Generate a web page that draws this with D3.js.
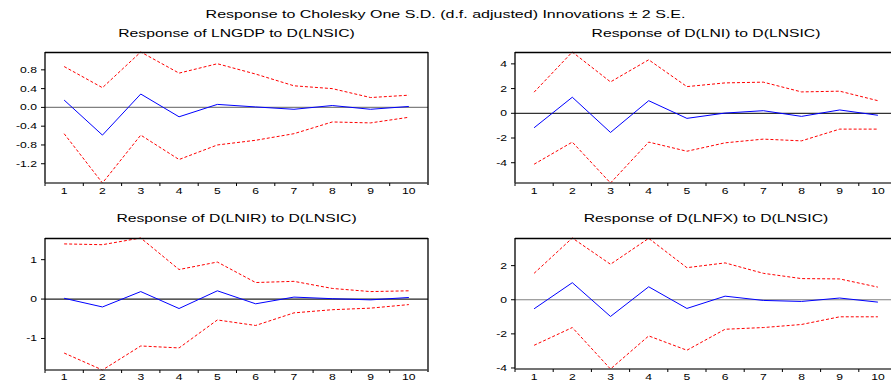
<!DOCTYPE html>
<html>
<head>
<meta charset="utf-8">
<script src="https://cdn.jsdelivr.net/npm/d3@7/dist/d3.min.js"></script>
<style>
  body { margin: 0; background: #fff; }
  svg { display: block; }
  text { font-family: "Liberation Sans", Arial, sans-serif; fill: #000; }
</style>
</head>
<body>
<div id="container"></div>
<script>
// periods
const periods = ['1', '2', '3', '4', '5', '6', '7', '8', '9', '10'];

// Response of LNGDP to D(LNSIC)
const gdpResp  = [0.156, -0.59, 0.285, -0.20, 0.064, 0.01, -0.04, 0.04, -0.04, 0.02];
const gdpUpper = [0.87, 0.42, 1.18, 0.73, 0.93, 0.71, 0.46, 0.40, 0.21, 0.26];
const gdpLower = [-0.56, -1.61, -0.59, -1.11, -0.80, -0.70, -0.56, -0.31, -0.33, -0.21];
const gdpTicks = [-1.2, -0.8, -0.4, 0.0, 0.4, 0.8];

// Response of D(LNI) to D(LNSIC)
const niResp  = [-1.17, 1.30, -1.55, 1.02, -0.41, 0.02, 0.21, -0.25, 0.27, -0.16];
const niUpper = [1.71, 4.96, 2.54, 4.33, 2.16, 2.46, 2.52, 1.73, 1.79, 1.02];
const niLower = [-4.12, -2.33, -5.64, -2.33, -3.07, -2.39, -2.09, -2.23, -1.28, -1.28];
const niTicks = [-4, -2, 0, 2, 4];

// Response of D(LNIR) to D(LNSIC)
const irResp  = [0.02, -0.20, 0.19, -0.24, 0.21, -0.12, 0.05, 0.01, -0.02, 0.04];
const irUpper = [1.40, 1.38, 1.55, 0.75, 0.94, 0.42, 0.45, 0.27, 0.19, 0.21];
const irLower = [-1.37, -1.80, -1.19, -1.24, -0.53, -0.67, -0.35, -0.27, -0.23, -0.14];
const irTicks = [-1, 0, 1];

// Response of D(LNFX) to D(LNSIC)
const fxResp  = [-0.53, 1.00, -0.98, 0.76, -0.51, 0.21, -0.04, -0.10, 0.10, -0.14];
const fxUpper = [1.55, 3.62, 2.08, 3.60, 1.88, 2.16, 1.55, 1.24, 1.22, 0.74];
const fxLower = [-2.67, -1.63, -4.06, -2.12, -2.96, -1.73, -1.63, -1.45, -1.00, -1.00];
const fxTicks = [-4, -2, 0, 2];

const mainTitle = 'Response to Cholesky One S.D. (d.f. adjusted) Innovations \u00b1 2 S.E.';

// plain hyphen for negatives, like the source
const loc = d3.formatLocale({ decimal: '.', thousands: ',', grouping: [3], currency: ['', ''], minus: '-' });
const f1 = loc.format('.1f'), f0 = loc.format('d');

const panels = [
  { title: 'Response of LNGDP to D(LNSIC)', resp: gdpResp, up: gdpUpper, lo: gdpLower, ticks: gdpTicks, fmt: f1,
    x0: 45, x1: 428, y0: 52, y1: 183, titleY: 37, labelY: 194, zero: '#808080' },
  { title: 'Response of D(LNI) to D(LNSIC)', resp: niResp, up: niUpper, lo: niLower, ticks: niTicks, fmt: f0,
    x0: 515, x1: 897, y0: 52, y1: 183, titleY: 37, labelY: 194, zero: '#333' },
  { title: 'Response of D(LNIR) to D(LNSIC)', resp: irResp, up: irUpper, lo: irLower, ticks: irTicks, fmt: f0,
    x0: 45, x1: 428, y0: 238, y1: 370, titleY: 222, labelY: 379.5, zero: '#222' },
  { title: 'Response of D(LNFX) to D(LNSIC)', resp: fxResp, up: fxUpper, lo: fxLower, ticks: fxTicks, fmt: f0,
    x0: 515, x1: 897, y0: 238, y1: 369, titleY: 222, labelY: 379.5, zero: '#808080' }
];

const W = 891, H = 383, SX = 1.43;

const svg = d3.select('#container').append('svg')
  .attr('width', W).attr('height', H);

// stretched text helper (the source image is widened horizontally)
function label(g, x, y, txt, size, anchor) {
  return g.append('text')
    .attr('transform', `translate(${x},${y}) scale(${SX},1)`)
    .attr('text-anchor', anchor || 'middle')
    .style('font-size', size + 'px')
    .text(txt);
}

label(svg, 445.5, 17.5, mainTitle, 11.2, 'middle');

panels.forEach(p => {
  const g = svg.append('g');

  const x = d3.scaleBand().domain(periods).range([p.x0, p.x1]);
  const all = p.resp.concat(p.up, p.lo);
  const y = d3.scaleLinear().domain(d3.extent(all)).range([p.y1, p.y0]);
  const cx = i => x(periods[i]) + x.bandwidth() / 2;

  label(g, (p.x0 + p.x1) / 2, p.titleY, p.title, 11, 'middle');

  // zero line
  g.append('line')
    .attr('x1', p.x0).attr('x2', p.x1)
    .attr('y1', y(0)).attr('y2', y(0))
    .attr('stroke', p.zero).attr('stroke-width', 1.2);

  const line = d3.line().x((d, i) => cx(i)).y(d => y(d));

  [p.up, p.lo].forEach(s => {
    g.append('path').datum(s)
      .attr('fill', 'none')
      .attr('stroke', '#ff0000')
      .attr('stroke-width', 1)
      .attr('stroke-dasharray', '3 2')
      .attr('d', line);
  });
  g.append('path').datum(p.resp)
    .attr('fill', 'none')
    .attr('stroke', '#0000ff')
    .attr('stroke-width', 1)
    .attr('d', line);

  // frame
  g.append('line').attr('x1', p.x0).attr('x2', p.x1).attr('y1', p.y0 + 0.5).attr('y2', p.y0 + 0.5)
    .attr('stroke', '#000').attr('stroke-width', 1.3);
  g.append('line').attr('x1', p.x0).attr('x2', p.x0).attr('y1', p.y0).attr('y2', p.y1)
    .attr('stroke', '#000').attr('stroke-width', 1.3);
  g.append('line').attr('x1', p.x1).attr('x2', p.x1).attr('y1', p.y0).attr('y2', p.y1 + 2)
    .attr('stroke', '#000').attr('stroke-width', 1.3);
  g.append('line').attr('x1', p.x0).attr('x2', p.x1).attr('y1', p.y1).attr('y2', p.y1)
    .attr('stroke', '#444').attr('stroke-width', 1.3);

  // x ticks at band edges
  periods.forEach((d, i) => {
    g.append('line')
      .attr('x1', x(d)).attr('x2', x(d))
      .attr('y1', p.y1).attr('y2', p.y1 + 3)
      .attr('stroke', '#000').attr('stroke-width', 1);
    label(g, cx(i), p.labelY, d, 8.5, 'middle');
  });

  // y ticks
  p.ticks.forEach(t => {
    g.append('line')
      .attr('x1', p.x0 - 4).attr('x2', p.x0)
      .attr('y1', y(t)).attr('y2', y(t))
      .attr('stroke', '#000').attr('stroke-width', 1);
    label(g, p.x0 - 8, y(t) + 3, p.fmt(t), 8.5, 'end');
  });
});
</script>
</body>
</html>
